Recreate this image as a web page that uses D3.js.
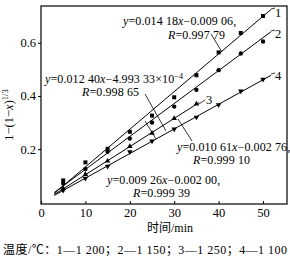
<!DOCTYPE html>
<html>
<head>
<meta charset="utf-8">
<style>
    body { margin: 0; background: #fff; }
    svg {
        display: block;
        font-family: 'Liberation Serif', 'Noto Sans CJK SC', serif;
    }
</style>
</head>
<body>
<svg width="290" height="260"></svg>

<script src="https://d3js.org/d3.v7.min.js"></script>
<script>
    // time in min
    let times = [5, 10, 15, 20, 25, 30, 35, 40, 45, 50]
    // 1-(1-x)^(1/3)
    let series1 = [0.082, 0.150, 0.201, 0.265, 0.326, 0.395, 0.478, 0.564, 0.637, 0.701]
    let series2 = [0.070, 0.125, 0.190, 0.240, 0.300, 0.360, 0.423, 0.497, 0.560, 0.605]
    let series3 = [0.052, 0.105, 0.155, 0.210, 0.260, 0.315, 0.370]
    let series4 = [0.045, 0.090, 0.135, 0.190, 0.230, 0.275, 0.320, 0.367, 0.418, 0.463]

    // fitted lines (slope, intercept) as printed in the chart
    let slopes = [0.01418, 0.01240, 0.01061, 0.00926]
    let intercepts = [-0.00906, -4.99333e-4, -0.00276, -0.00200]
    let fitFrom = [3, 3, 3, 3]
    let fitTo = [51.8, 51.8, 35.6, 51.8]

    let xTicks = [0, 10, 20, 30, 40, 50]
    let yTicks = [0.2, 0.4, 0.6]
    let seriesNames = ["1", "2", "3", "4"]

    let svg = d3.select("svg")

    let x = d3.scaleLinear().domain([0, 55.4]).range([41, 287])
    let y = d3.scaleLinear().domain([-0.0067, 0.7386]).range([204, 6])

    // frame
    svg.append("rect")
        .attr("x", x(0)).attr("y", y(0.7386))
        .attr("width", x(55.4) - x(0))
        .attr("height", y(-0.0067) - y(0.7386))
        .attr("fill", "none")
        .attr("stroke", "#000")
        .attr("stroke-width", 1.2)

    let xAxis = svg.append("g")
        .attr("transform", `translate(0,${y(-0.0067)})`)
        .call(d3.axisBottom(x).tickValues(xTicks).tickSize(-3).tickPadding(4).tickFormat(d3.format("d")))
    xAxis.select(".domain").remove()

    let yAxis = svg.append("g")
        .attr("transform", `translate(${x(0)},0)`)
        .call(d3.axisLeft(y).tickValues(yTicks).tickSize(3).tickPadding(2).tickFormat(d3.format(".1f")))
    yAxis.select(".domain").remove()

    svg.selectAll(".tick text")
        .attr("font-size", 12.5)
        .attr("font-family", "'Liberation Serif', serif")
        .attr("fill", "#000")
    svg.selectAll(".tick line").attr("stroke", "#000")

    // fit lines
    let fits = svg.append("g").attr("class", "fits")
    slopes.forEach((k, i) => {
        let pts = [fitFrom[i], fitTo[i]].map(t => [t, k * t + intercepts[i]])
        fits.append("path")
            .attr("d", d3.line().x(d => x(d[0])).y(d => y(d[1]))(pts))
            .attr("stroke", "#000")
            .attr("stroke-width", 1)
            .attr("fill", "none")
    })

    // markers
    let allSeries = [series1, series2, series3, series4]
    let symbols = [d3.symbolSquare, d3.symbolCircle, d3.symbolTriangle, d3.symbolTriangle]
    let sizes = [16, 15, 13, 13]
    let rot = [0, 0, 0, 180]
    allSeries.forEach((vals, i) => {
        svg.append("g")
            .selectAll("path")
            .data(vals)
            .join("path")
            .attr("d", d3.symbol().type(symbols[i]).size(sizes[i]))
            .attr("transform", (d, j) => `translate(${x(times[j])},${y(d)}) rotate(${rot[i]})`)
            .attr("fill", "#000")
    })

    // rich text helper: parts are [text, style]
    let eqSize = 12
    function rich(px, py, parts) {
        let t = svg.append("text")
            .attr("x", px).attr("y", py)
            .attr("font-size", eqSize)
            .attr("letter-spacing", 0.1)
            .attr("fill", "#000")
        parts.forEach(p => {
            let s = t.append("tspan").text(p[0])
            if (p[1] == "i") s.attr("font-style", "italic")
            if (p[1] == "sup") s.attr("baseline-shift", "super").attr("font-size", eqSize * 0.68)
        })
        return t
    }

    rich(123, 25, [["y", "i"], ["=0.014 18"], ["x", "i"], ["\u22120.009 06,"]])
    rich(168, 39, [["R", "i"], ["=0.997 79"]])
    rich(45, 83, [["y", "i"], ["=0.012 40"], ["x", "i"], ["\u22124.993 33\u00d710"], ["\u22124", "sup"]])
    rich(82, 96, [["R", "i"], ["=0.998 65"]])
    rich(177, 151, [["y", "i"], ["=0.010 61"], ["x", "i"], ["\u22120.002 76,"]])
    rich(193, 164, [["R", "i"], ["=0.999 10"]])
    rich(107, 184, [["y", "i"], ["=0.009 26"], ["x", "i"], ["\u22120.002 00,"]])
    rich(133, 197, [["R", "i"], ["=0.999 39"]])

    // leader lines
    let leaders = [
        [[211, 34], [222, 52]],
        [[145, 94], [166, 131]],
        [[178, 119], [192, 141]],
        [[145, 121], [156, 139]],
        [[199, 104], [205, 100]],
        [[271, 9], [275, 8]],
        [[271, 31], [275, 30]],
        [[271, 74], [275, 73]]
    ]
    svg.append("g").selectAll("path")
        .data(leaders)
        .join("path")
        .attr("d", d => d3.line()(d))
        .attr("stroke", "#000")
        .attr("stroke-width", 0.8)

    // curve numbers
    let numPos = [[275, 17], [275, 38], [206, 104], [275, 80]]
    svg.append("g").selectAll("text")
        .data(seriesNames)
        .join("text")
        .attr("x", (d, i) => numPos[i][0])
        .attr("y", (d, i) => numPos[i][1])
        .attr("font-size", 12.5)
        .text(d => d)

    // axis titles
    svg.append("text")
        .attr("x", 170).attr("y", 232)
        .attr("text-anchor", "middle")
        .attr("font-size", 12)
        .text("时间/min")

    let yt = svg.append("text")
        .attr("transform", "translate(13,115) rotate(-90)")
        .attr("text-anchor", "middle")
        .attr("font-size", 12.5)
    yt.append("tspan").text("1\u2212(1\u2212")
    yt.append("tspan").text("x").attr("font-style", "italic")
    yt.append("tspan").text(")")
    yt.append("tspan").text("1/3").attr("baseline-shift", "super").attr("font-size", 8.5)

    // footnote
    svg.append("text")
        .attr("x", 3).attr("y", 254)
        .attr("font-size", 12)
        .attr("textLength", 284)
        .attr("lengthAdjust", "spacing")
        .text("温度/℃：1—1 200；2—1 150；3—1 250；4—1 100")
</script>
</body>
</html>
